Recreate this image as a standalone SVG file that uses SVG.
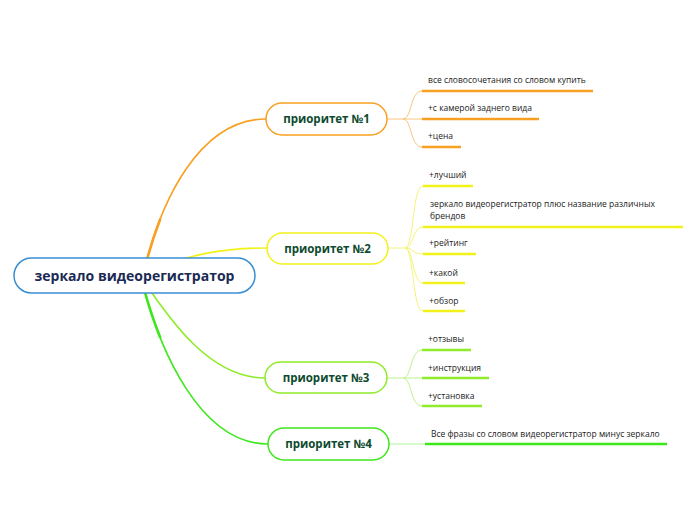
<svg xmlns="http://www.w3.org/2000/svg" width="696" height="520" viewBox="0 0 696 520">
<style>
.node rect{fill:#fff;stroke-width:1.5}
.nt{font-family:"Open Sans","DejaVu Sans",sans-serif;font-weight:bold;font-size:11.5px;fill:#0d4a2e;text-anchor:middle}
.lt{font-family:"Open Sans","DejaVu Sans",sans-serif;font-size:8.5px;fill:#222}
.main{fill:none;stroke-width:1.6}
.thick{fill:none;stroke-width:2.6;stroke-linecap:round}
.sub{fill:none;stroke-width:1}
.ul{fill:none;stroke-width:2.5}
</style>
<rect width="696" height="520" fill="#fff"/>
<g id="connectors">
  <path class="main" stroke="#f7a021" d="M143 276 C160 200 200 119 266 119"/>
  <path class="thick" stroke="#f7a021" d="M143 276 C147.25 257 152.94 237.69 160.11 219.41"/>
  <path class="main" stroke="#f2f21a" d="M150 270 C190 255 220 248 267 248"/>
  <path class="main" stroke="#8fec2a" d="M143 280 C170 320 210 378 265 378"/>
  <path class="main" stroke="#3ce81a" d="M143 285 C160 350 200 444 268 444"/>
  <path class="thick" stroke="#3ce81a" d="M143 285 C147.25 301.25 152.94 319.31 160.14 337.27"/>
  <!-- p1 -->
  <g stroke="#f8c47a">
    <path class="sub" d="M387 119 H403 C412 119 410 91 422 91"/>
    <path class="sub" d="M403 119 C412 119 412 119 422 119"/>
    <path class="sub" d="M403 119 C412 119 410 147 422 147"/>
  </g>
  <g stroke="#f7a021">
    <path class="ul" d="M422 91 H593"/>
    <path class="ul" d="M422 119 H539"/>
    <path class="ul" d="M422 147 H461"/>
  </g>
  <!-- p2 -->
  <g stroke="#f4f47a">
    <path class="sub" d="M388 248 H405 C414 248 412 186 423 186"/>
    <path class="sub" d="M405 248 C414 248 412 227 423 227"/>
    <path class="sub" d="M405 248 C414 248 412 254 423 254"/>
    <path class="sub" d="M405 248 C414 248 412 283 423 283"/>
    <path class="sub" d="M405 248 C414 248 412 311 423 311"/>
  </g>
  <g stroke="#f2f21a">
    <path class="ul" d="M423 186 H473"/>
    <path class="ul" d="M423 227 H683"/>
    <path class="ul" d="M423 254 H476"/>
    <path class="ul" d="M423 283 H465"/>
    <path class="ul" d="M423 311 H465"/>
  </g>
  <!-- p3 -->
  <g stroke="#bdf38a">
    <path class="sub" d="M387 378 H403 C412 378 410 350 422 350"/>
    <path class="sub" d="M403 378 H422"/>
    <path class="sub" d="M403 378 C412 378 410 406 422 406"/>
  </g>
  <g stroke="#8fec2a">
    <path class="ul" d="M422 350 H471"/>
    <path class="ul" d="M422 378 H489"/>
    <path class="ul" d="M422 406 H482"/>
  </g>
  <!-- p4 -->
  <path class="sub" stroke="#a8f59a" d="M389 444 H425"/>
  <path class="ul" stroke="#3ce81a" d="M425 444 H667"/>
</g>
<g id="root" class="node">
  <rect x="14" y="258" width="241" height="35" rx="17.5" fill="#f8fbff" stroke="#3a8fd4"/>
  <text x="134.5" y="281" font-family="'Open Sans','DejaVu Sans',sans-serif" font-weight="bold" font-size="14" fill="#1b2a55" text-anchor="middle">зеркало видеорегистратор</text>
</g>
<g id="p1" class="node">
  <rect x="266" y="103" width="121" height="32" rx="16" stroke="#f7a021"/>
  <text class="nt" x="326.5" y="123">приоритет №1</text>
</g>
<g id="p2" class="node">
  <rect x="267" y="233" width="121" height="31" rx="15.5" stroke="#f2f21a"/>
  <text class="nt" x="327.5" y="252.5">приоритет №2</text>
</g>
<g id="p3" class="node">
  <rect x="265" y="362" width="122" height="31" rx="15.5" stroke="#8fec2a"/>
  <text class="nt" x="326" y="382">приоритет №3</text>
</g>
<g id="p4" class="node">
  <rect x="268" y="428" width="121" height="32" rx="16" stroke="#3ce81a"/>
  <text class="nt" x="328.5" y="448">приоритет №4</text>
</g>
<g id="leaves">
  <text class="lt" x="428" y="83">все словосочетания со словом купить</text>
  <text class="lt" x="428" y="111">+с камерой заднего вида</text>
  <text class="lt" x="428" y="139">+цена</text>
  <text class="lt" x="429" y="178">+лучший</text>
  <text class="lt" x="430" y="207">зеркало видеорегистратор плюс название различных</text>
  <text class="lt" x="430" y="219">брендов</text>
  <text class="lt" x="429" y="246">+рейтинг</text>
  <text class="lt" x="429" y="276">+какой</text>
  <text class="lt" x="429" y="304">+обзор</text>
  <text class="lt" x="428" y="342">+отзывы</text>
  <text class="lt" x="428" y="371">+инструкция</text>
  <text class="lt" x="428" y="399">+установка</text>
  <text class="lt" x="431" y="437">Все фразы со словом видеорегистратор минус зеркало</text>
</g>
</svg>
